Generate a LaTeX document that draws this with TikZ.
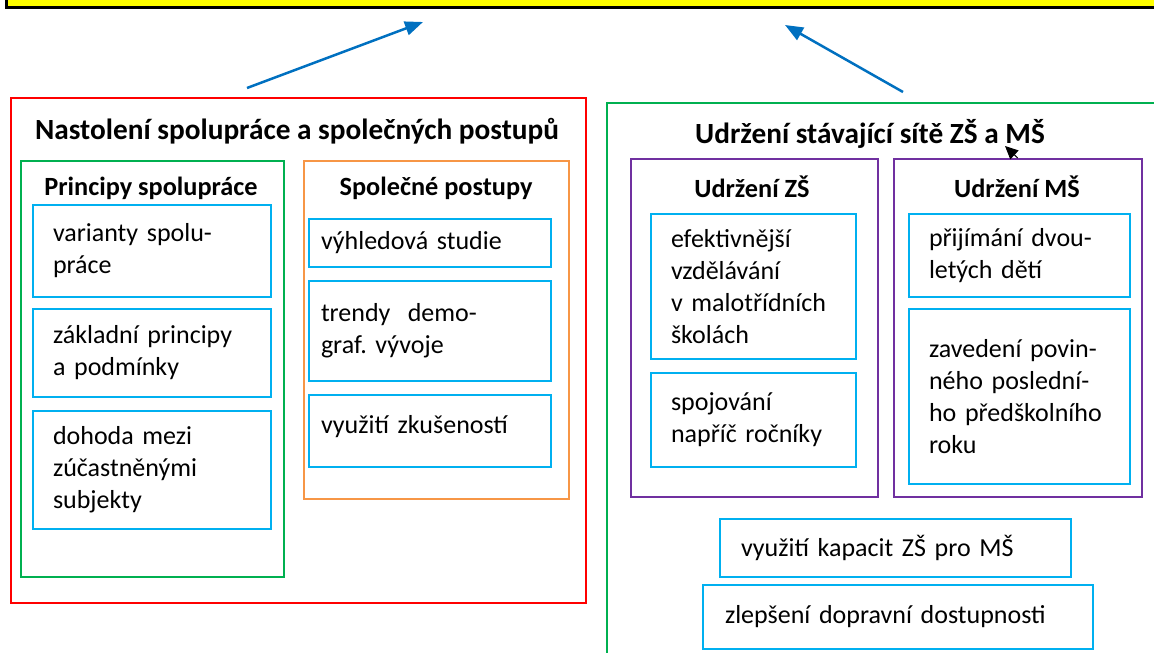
\documentclass[tikz,border=0pt]{standalone}
\usepackage{fontspec}
\setmainfont{Carlito}
\usetikzlibrary{arrows.meta}
\definecolor{cred}{HTML}{FF0000}
\definecolor{cgreen}{HTML}{00B050}
\definecolor{corange}{HTML}{F79646}
\definecolor{cpurple}{HTML}{7030A0}
\definecolor{cblue}{HTML}{00B0F0}
\definecolor{carrow}{HTML}{0070C0}
\definecolor{cyellow}{HTML}{FFFF00}
\frenchspacing
\begin{document}
\begin{tikzpicture}[x=1pt,y=-1pt,
  frame/.style={draw, line width=1.5pt, anchor=north west, inner sep=0pt},
  bbox/.style={draw=cblue, line width=2pt, anchor=north west, inner xsep=20pt, inner ysep=0pt, align=left, font=\fontsize{26}{32}\selectfont},
  obox/.style={bbox, inner xsep=12pt},
  ttl/.style={inner sep=0pt, font=\bfseries\fontsize{29.3}{34}\selectfont},
  sttl/.style={inner sep=0pt, font=\bfseries\fontsize{26.3}{30}\selectfont},
  barrow/.style={draw=carrow, line width=2.5pt, -{Triangle[length=18pt,width=14pt]}},
  karrow/.style={draw=black, line width=1pt, -{Triangle[length=13pt,width=12pt]}}
]
\useasboundingbox (0,0) rectangle (1154,653);
% top bar
\node[draw=black, fill=cyellow, line width=2.5pt, anchor=north west, minimum width=1170pt, minimum height=26pt, inner sep=0pt] (top) at (5,-20) {};

% left group
\node[frame, draw=cred, minimum width=575pt, minimum height=505pt] (lf) at (10,97) {};
\node[ttl] (lft) at (297,131) {Nastolení spolupráce a společných postupů};
\node[frame, draw=cgreen, minimum width=263pt, minimum height=416pt] (pf) at (20,160) {};
\node[sttl] (pft) at (151,188) {Principy spolupráce};
\node[bbox, text width=198pt, minimum height=92pt] (b1) at (32,204) {varianty spolu-\\práce};
\node[bbox, text width=198pt, minimum height=88pt] (b2) at (32,308) {základní principy\\a podmínky};
\node[bbox, text width=198pt, minimum height=118pt] (b3) at (32,410) {dohoda mezi\\zúčastněnými\\subjekty};

\node[frame, draw=corange, minimum width=265pt, minimum height=338pt] (of) at (303,160) {};
\node[sttl] (oft) at (436,188) {Společné postupy};
\node[obox, text width=218pt, minimum height=48pt] (b4) at (308,218) {výhledová studie};
\node[obox, text width=218pt, minimum height=100pt] (b5) at (308,280) {trendy~ demo-\\graf. vývoje};
\node[obox, text width=218pt, minimum height=72pt, text depth=14pt] (b6) at (308,394) {využití zkušeností};

% right group
\node[frame, draw=cgreen, minimum width=570pt, minimum height=600pt] (rf) at (606,102) {};
\node[ttl] (rft) at (870,134) {Udržení stávající sítě ZŠ a MŠ};
\node[frame, draw=cpurple, minimum width=247pt, minimum height=338pt] (zf) at (630,158) {};
\node[sttl] (zft) at (752,187) {Udržení ZŠ};
\node[bbox, text width=165pt, minimum height=145pt] (b7) at (650,213) {efektivnější\\vzdělávání\\v malotřídních\\školách};
\node[bbox, text width=165pt, minimum height=94pt] (b8) at (650,372) {spojování\\napříč ročníky};

\node[frame, draw=cpurple, minimum width=248pt, minimum height=338pt] (mf) at (893,158) {};
\node[sttl] (mft) at (1017,187) {Udržení MŠ};
\node[bbox, text width=181pt, minimum height=83pt] (b9) at (908,213) {přijímání dvou-\\letých dětí};
\node[bbox, text width=181pt, minimum height=175pt] (b10) at (908,308) {zavedení povin-\\ného poslední-\\ho předškolního\\roku};

\node[bbox, inner xsep=21pt, text width=309pt, minimum height=58pt] (b11) at (719,518) {využití kapacit ZŠ pro MŠ};
\node[bbox, inner xsep=22pt, text width=346pt, minimum height=64pt] (b12) at (702,584) {zlepšení dopravní dostupnosti};

% arrows
\coordinate (a1s) at (247,88);
\coordinate (a1e) at (423,22);
\coordinate (a2s) at (903,92);
\coordinate (a2e) at (785,25);
\coordinate (a3e) at (1005,146);
\draw[barrow] (a1s) -- (a1e);
\draw[barrow] (a2s) -- (a2e);
\draw[karrow] (mf.north) -- (a3e);
\end{tikzpicture}
\end{document}
